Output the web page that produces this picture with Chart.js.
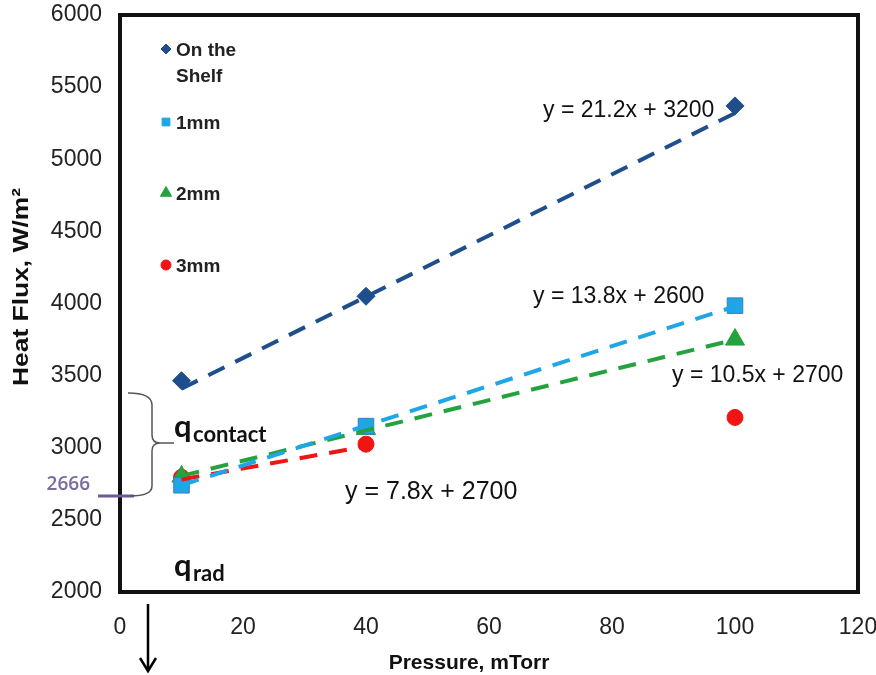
<!DOCTYPE html>
<html>
<head>
<meta charset="utf-8">
<script src="https://cdn.jsdelivr.net/npm/chart.js@4.4.1/dist/chart.umd.min.js"></script>
<style>
  html, body { margin: 0; padding: 0; background: #fff; }
  #wrap { width: 876px; height: 675px; }
</style>
</head>
<body>
<div id="wrap"><canvas id="heatChart" width="876" height="675"></canvas></div>
<script>
// values
var pressures = [10, 40, 100];
var shelf = [3465, 4050, 5370];
var mm1 = [2740, 3150, 3985];
var mm2 = [2800, 3130, 3750];
var mm3 = [2795, 3025, 3210];

// dashed trendline ends
var trendX = [10, 100];
var shelfTrend = [3410, 5320];
var mm1Trend = [2740, 3980];
var mm2Trend = [2805, 3750];
var mm3TrendX = [10, 40];
var mm3Trend = [2780, 3010];

var seriesNames = ['On the Shelf', '1mm', '2mm', '3mm'];
var equations = ['y = 21.2x + 3200', 'y = 13.8x + 2600', 'y = 10.5x + 2700', 'y = 7.8x + 2700'];
var xTicks = [0, 20, 40, 60, 80, 100, 120];
var yTicks = [2000, 2500, 3000, 3500, 4000, 4500, 5000, 5500, 6000];
var markLevel = 2666;

var cShelf = '#1F4E8C';
var c1 = '#1EA6E6';
var c2 = '#24A23E';
var c3 = '#F01414';
var arial = '"Liberation Sans", Arial, sans-serif';

function pts(xs, ys) {
    return xs.map(function (x, i) { return { x: x, y: ys[i] }; });
}

function trend(xs, ys, color) {
    return {
        data: pts(xs, ys),
        showLine: true,
        borderColor: color,
        borderWidth: 4,
        borderDash: [18, 12],
        pointRadius: 0,
        fill: false
    };
}

function marks(ys, color, style, r) {
    return {
        data: pts(pressures, ys),
        showLine: false,
        pointStyle: style,
        pointRadius: r,
        backgroundColor: color,
        borderColor: color,
        borderWidth: 1
    };
}

var annotations = {
    id: 'annotations',
    afterDraw: function (chart) {
        var ctx = chart.ctx;
        var ys = chart.scales.y;
        var area = chart.chartArea;
        ctx.save();

        // frame
        ctx.strokeStyle = '#111';
        ctx.lineWidth = 4;
        ctx.strokeRect(area.left, area.top, area.right - area.left, area.bottom - area.top);

        // axis titles
        ctx.fillStyle = '#111';
        ctx.font = 'bold 21px ' + arial;
        ctx.textAlign = 'center';
        ctx.textBaseline = 'middle';
        ctx.fillText('Pressure, mTorr', 469, 663);
        ctx.save();
        ctx.translate(22, 287);
        ctx.rotate(-Math.PI / 2);
        ctx.scale(1.2, 1);
        ctx.font = 'bold 22px ' + arial;
        ctx.fillText('Heat Flux, W/m²', 0, 0);
        ctx.restore();

        // legend inside the plot
        var legend = [
            { style: 'rectRot', color: cShelf, r: 5, lines: ['On the', 'Shelf'], y: 49 },
            { style: 'rect', color: c1, r: 5.5, lines: ['1mm'], y: 122 },
            { style: 'triangle', color: c2, r: 6.5, lines: ['2mm'], y: 193 },
            { style: 'circle', color: c3, r: 5, lines: ['3mm'], y: 265 }
        ];
        ctx.font = 'bold 19px ' + arial;
        ctx.textAlign = 'left';
        legend.forEach(function (item) {
            ctx.fillStyle = item.color;
            ctx.strokeStyle = item.color;
            ctx.lineWidth = 1;
            Chart.helpers.drawPoint(ctx, { pointStyle: item.style, radius: item.r, borderWidth: 1 }, 166, item.y);
            ctx.fillStyle = '#222';
            item.lines.forEach(function (t, i) {
                ctx.fillText(t, 176, item.y + 2 + i * 26);
            });
        });

        // trendline equations
        ctx.fillStyle = '#111';
        ctx.font = '23px ' + arial;
        ctx.fillText(equations[0], 543, 111);
        ctx.fillText(equations[1], 533, 297);
        ctx.fillText(equations[2], 672, 376);
        ctx.font = '25px ' + arial;
        ctx.fillText(equations[3], 345, 492);

        // 2666 mark
        var yMark = ys.getPixelForValue(markLevel);
        ctx.strokeStyle = '#6A5A96';
        ctx.lineWidth = 3;
        ctx.beginPath();
        ctx.moveTo(98, yMark);
        ctx.lineTo(134, yMark);
        ctx.stroke();
        ctx.fillStyle = '#7A6BA0';
        ctx.font = '600 19px "Open Sans", sans-serif';
        ctx.textAlign = 'right';
        ctx.fillText('2666', 90, yMark - 11);

        // brace
        var top = 393, bot = yMark, mid = 443, bx = 152;
        ctx.strokeStyle = '#555';
        ctx.lineWidth = 1.5;
        ctx.beginPath();
        ctx.moveTo(128, top);
        ctx.quadraticCurveTo(bx, top, bx, top + 12);
        ctx.lineTo(bx, mid - 8);
        ctx.quadraticCurveTo(bx, mid, bx + 8, mid);
        ctx.lineTo(174, mid);
        ctx.moveTo(bx + 8, mid);
        ctx.quadraticCurveTo(bx, mid, bx, mid + 8);
        ctx.lineTo(bx, bot - 10);
        ctx.quadraticCurveTo(bx, bot, 130, bot);
        ctx.stroke();

        // q labels
        ctx.fillStyle = '#111';
        ctx.textAlign = 'left';
        ctx.textBaseline = 'alphabetic';
        ctx.font = 'bold 31px Lato, sans-serif';
        ctx.fillText('q', 174, 437);
        ctx.fillText('q', 174, 576);
        ctx.font = 'bold 22px Lato, sans-serif';
        ctx.fillText('contact', 193, 442);
        ctx.fillText('rad', 193, 581);

        // arrow below the axis
        ctx.strokeStyle = '#000';
        ctx.lineWidth = 2.5;
        ctx.beginPath();
        ctx.moveTo(148, 604);
        ctx.lineTo(148, 671);
        ctx.moveTo(140, 658);
        ctx.lineTo(148, 671);
        ctx.lineTo(156, 658);
        ctx.stroke();

        ctx.restore();
    }
};

var ctx = document.getElementById('heatChart').getContext('2d');
var heatChart = new Chart(ctx, {
    type: 'scatter',
    data: {
        datasets: [
            trend(trendX, shelfTrend, cShelf),
            trend(trendX, mm1Trend, c1),
            trend(trendX, mm2Trend, c2),
            trend(mm3TrendX, mm3Trend, c3),
            Object.assign(marks(shelf, cShelf, 'rectRot', 9), { label: seriesNames[0] }),
            Object.assign(marks(mm1, c1, 'rect', 11), { label: seriesNames[1], borderColor: '#3A7FC0' }),
            Object.assign(marks(mm2, c2, 'triangle', 11), { label: seriesNames[2] }),
            Object.assign(marks(mm3, c3, 'circle', 8), { label: seriesNames[3] })
        ]
    },
    options: {
        responsive: false,
        animation: false,
        layout: { padding: { top: 15, right: 18, left: 0, bottom: 0 } },
        plugins: { legend: { display: false }, tooltip: { enabled: false } },
        scales: {
            x: {
                type: 'linear',
                min: 0,
                max: 120,
                afterBuildTicks: function (s) { s.ticks = xTicks.map(function (v) { return { value: v }; }); },
                afterFit: function (s) {
                    s.height = 83;
                    s.paddingLeft = 0;
                    s.paddingRight = 0;
                },
                grid: { display: false, drawTicks: false },
                border: { display: false },
                ticks: {
                    color: '#222',
                    padding: 22,
                    font: { size: 23, family: arial },
                    callback: function (v) { return String(v); }
                }
            },
            y: {
                type: 'linear',
                min: 2000,
                max: 6000,
                afterBuildTicks: function (s) { s.ticks = yTicks.map(function (v) { return { value: v }; }); },
                afterFit: function (s) {
                    s.width = 120;
                    s.paddingTop = 0;
                    s.paddingBottom = 0;
                },
                grid: { display: false, drawTicks: false },
                border: { display: false },
                ticks: {
                    color: '#222',
                    padding: 18,
                    font: { size: 23, family: arial },
                    callback: function (v) { return String(v); }
                }
            }
        }
    },
    plugins: [annotations]
});
</script>
</body>
</html>
